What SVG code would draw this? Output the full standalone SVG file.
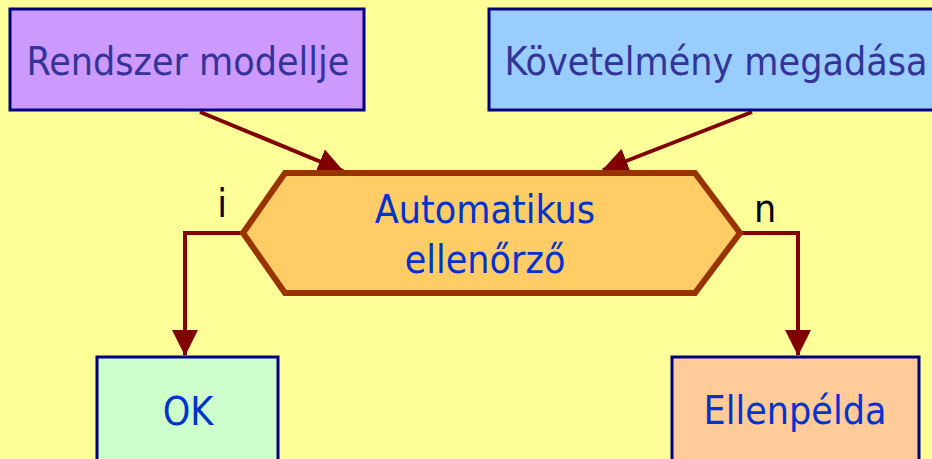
<svg xmlns="http://www.w3.org/2000/svg" width="932" height="459" viewBox="0 0 932 459">
<defs>
<style>
.box{stroke:#000080;stroke-width:3}
.t{font-family:"DejaVu Sans Condensed","DejaVu Sans",sans-serif;font-stretch:condensed;font-size:39px;text-anchor:middle}
.dark{fill:#333399}
.blue{fill:#0033CC}
.lbl{fill:#000000}
.con{fill:none;stroke:#800000;stroke-width:4}
</style>
<marker id="ah" markerUnits="userSpaceOnUse" markerWidth="26" markerHeight="26" viewBox="0 0 26 26" refX="25" refY="13" orient="auto">
<path d="M0,0 L26,13 L0,26 Z" fill="#800000"/>
</marker>
</defs>
<rect width="932" height="459" fill="#FFFF99"/>
<g id="connectors">
<line class="con" x1="200" y1="112" x2="343" y2="171" marker-end="url(#ah)"/>
<line class="con" x1="752" y1="112" x2="603" y2="170" marker-end="url(#ah)"/>
<polyline class="con" points="243,233 185,233 185,355" marker-end="url(#ah)"/>
<polyline class="con" points="740,233 798,233 798,355" marker-end="url(#ah)"/>
<text class="t lbl" x="222" y="217">i</text>
<text class="t lbl" x="765" y="222">n</text>
</g>
<g id="rendszer">
<rect class="box" x="10" y="9" width="354" height="101" fill="#CC99FF"/>
<text class="t dark" x="188" y="75">Rendszer modellje</text>
</g>
<g id="kovetelmeny">
<rect class="box" x="489" y="9" width="450" height="101" fill="#99CCFF"/>
<text class="t dark" x="716" y="75">Követelmény megadása</text>
</g>
<g id="ellenorzo">
<polygon points="243,233 285,173 695,173 740,233 695,293 285,293" fill="#FFCC66" stroke="#993300" stroke-width="6"/>
<text class="t blue" x="485" y="223">Automatikus</text>
<text class="t blue" x="485" y="273">ellenőrző</text>
</g>
<g id="ok">
<rect class="box" x="97" y="357" width="181" height="110" fill="#CCFFCC"/>
<text class="t blue" x="188" y="425">OK</text>
</g>
<g id="ellenpelda">
<rect class="box" x="672" y="357" width="247" height="110" fill="#FFCC99"/>
<text class="t blue" x="795" y="424">Ellenpélda</text>
</g>
</svg>
